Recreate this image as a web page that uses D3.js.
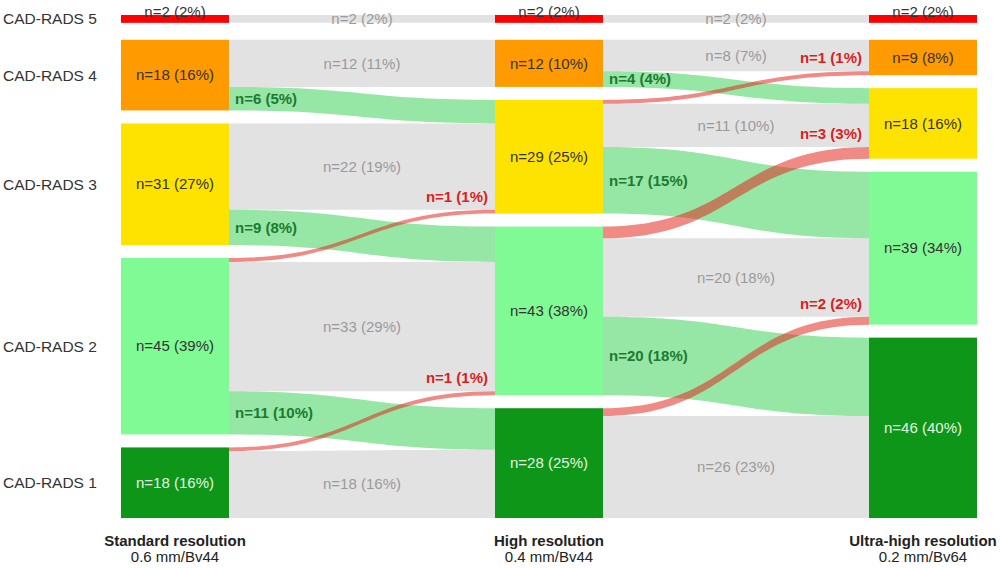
<!DOCTYPE html>
<html>
<head>
<meta charset="utf-8">
<script src="https://cdn.jsdelivr.net/npm/d3@7"></script>
<style>
  body { margin: 0; background: #fff; }
  svg { display: block; font-family: "Liberation Sans", Arial, sans-serif; }
</style>
</head>
<body>
<div id="chart"></div>
<script>
// categories top to bottom
const categories = ['CAD-RADS 5', 'CAD-RADS 4', 'CAD-RADS 3', 'CAD-RADS 2', 'CAD-RADS 1'];
const columnTitles = ['Standard resolution', 'High resolution', 'Ultra-high resolution'];
const columnSubtitles = ['0.6 mm/Bv44', '0.4 mm/Bv44', '0.2 mm/Bv64'];

// patients per category in each column, and the printed percent
const nodeCounts = [
  [2, 18, 31, 45, 18],
  [2, 12, 29, 43, 28],
  [2, 9, 18, 39, 46]
];
const nodePercents = [
  [2, 16, 27, 39, 16],
  [2, 10, 25, 38, 25],
  [2, 8, 16, 34, 40]
];

// flows: [from category, to category, n, percent]
const flowsStandardToHigh = [
  [0, 0, 2, 2], [1, 1, 12, 11], [1, 2, 6, 5], [2, 2, 22, 19], [2, 3, 9, 8],
  [3, 2, 1, 1], [3, 3, 33, 29], [3, 4, 11, 10], [4, 3, 1, 1], [4, 4, 18, 16]
];
const flowsHighToUltra = [
  [0, 0, 2, 2], [1, 1, 8, 7], [1, 2, 4, 4], [2, 1, 1, 1], [2, 2, 11, 10],
  [2, 3, 17, 15], [3, 2, 3, 3], [3, 3, 20, 18], [3, 4, 20, 18], [4, 3, 2, 2], [4, 4, 26, 23]
];

const nodeColors = ['#ff0000', '#ff9a00', '#ffe300', '#80fa94', '#0e9618'];

const width = 1000, height = 568;
const nodeW = 108;
const yTop = 15, yBottom = 518, firstGap = 17, gap = 13;

const svg = d3.select('#chart').append('svg')
  .attr('width', width)
  .attr('height', height);

const total = d3.sum(nodeCounts[0]);
const colX = d3.scaleLinear().domain([0, 2]).range([121, 869]);
const h = d3.scaleLinear().domain([0, total]).range([0, yBottom - yTop - firstGap - 3 * gap]);

// build nodes
const nodes = nodeCounts.map((counts, c) => {
  let acc = 0;
  return counts.map((n, i) => {
    const y0 = yTop + h(acc) + (i > 0 ? firstGap + (i - 1) * gap : 0);
    acc += n;
    return { col: c, cat: i, n: n, pct: nodePercents[c][i], x0: colX(c), x1: colX(c) + nodeW, y0: y0, y1: y0 + h(n) };
  });
});

// build links, stacked inside source and target nodes
const links = [];
[flowsStandardToHigh, flowsHighToUltra].forEach((flows, step) => {
  const ls = flows.map(f => ({ s: nodes[step][f[0]], t: nodes[step + 1][f[1]], from: f[0], to: f[1], n: f[2], pct: f[3] }));
  // source side: sorted by target position
  d3.groups(ls, l => l.from).forEach(([key, grp]) => {
    grp.sort((a, b) => a.to - b.to);
    const node = grp[0].s;
    const f = (node.y1 - node.y0) / h(d3.sum(grp, l => l.n));
    let y = node.y0;
    grp.forEach(l => { l.sy0 = y; y += h(l.n) * f; l.sy1 = y; });
  });
  // target side: sorted by source position
  d3.groups(ls, l => l.to).forEach(([key, grp]) => {
    grp.sort((a, b) => a.from - b.from);
    const node = grp[0].t;
    const f = (node.y1 - node.y0) / h(d3.sum(grp, l => l.n));
    let y = node.y0;
    grp.forEach(l => { l.ty0 = y; y += h(l.n) * f; l.ty1 = y; });
  });
  ls.forEach(l => {
    l.x0 = l.s.x1;
    l.x1 = l.t.x0;
    l.kind = l.from === l.to ? 'same' : (l.to > l.from ? 'down' : 'up');
    links.push(l);
  });
});

function bandPath(l) {
  const xm = (l.x0 + l.x1) / 2;
  const p = d3.path();
  p.moveTo(l.x0, l.sy0);
  p.bezierCurveTo(xm, l.sy0, xm, l.ty0, l.x1, l.ty0);
  p.lineTo(l.x1, l.ty1);
  p.bezierCurveTo(xm, l.ty1, xm, l.sy1, l.x0, l.sy1);
  p.closePath();
  return p.toString();
}

const linkFill = { same: '#e2e2e2', down: 'rgba(45,205,77,0.5)', up: 'rgba(228,42,31,0.55)' };
const order = { same: 0, down: 1, up: 2 };
const sortedLinks = links.slice().sort((a, b) => order[a.kind] - order[b.kind]);

svg.append('g').selectAll('path')
  .data(sortedLinks)
  .enter().append('path')
  .attr('d', bandPath)
  .attr('fill', d => linkFill[d.kind]);

// nodes
const allNodes = nodes.flat();
svg.append('g').selectAll('rect')
  .data(allNodes)
  .enter().append('rect')
  .attr('x', d => d.x0)
  .attr('y', d => d.y0)
  .attr('width', d => d.x1 - d.x0)
  .attr('height', d => d.y1 - d.y0)
  .attr('fill', d => nodeColors[d.cat]);

// node labels
svg.append('g').selectAll('text')
  .data(allNodes)
  .enter().append('text')
  .attr('x', d => (d.x0 + d.x1) / 2)
  .attr('y', d => d.cat === 0 ? d.y0 + 2 : (d.y0 + d.y1) / 2)
  .attr('dy', d => d.cat === 0 ? 0 : '0.35em')
  .attr('text-anchor', 'middle')
  .attr('font-size', 15)
  .attr('fill', d => d.cat === 4 ? '#e4f4e4' : '#333')
  .text(d => `n=${d.n} (${d.pct}%)`);

// link labels
const lab = svg.append('g').attr('font-size', 15);
lab.selectAll('text.same')
  .data(links.filter(l => l.kind === 'same'))
  .enter().append('text')
  .attr('x', d => (d.x0 + d.x1) / 2)
  .attr('y', d => (d.sy0 + d.sy1 + d.ty0 + d.ty1) / 4)
  .attr('dy', '0.35em')
  .attr('text-anchor', 'middle')
  .attr('fill', '#9a9a9a')
  .text(d => `n=${d.n} (${d.pct}%)`);

lab.selectAll('text.down')
  .data(links.filter(l => l.kind === 'down'))
  .enter().append('text')
  .attr('x', d => d.x0 + 6)
  .attr('y', d => (d.sy0 + d.sy1) / 2)
  .attr('dy', '0.35em')
  .attr('font-weight', 'bold')
  .attr('fill', '#1d7a2e')
  .text(d => `n=${d.n} (${d.pct}%)`);

lab.selectAll('text.up')
  .data(links.filter(l => l.kind === 'up'))
  .enter().append('text')
  .attr('x', d => d.x1 - 7)
  .attr('y', d => d.ty0 - 8)
  .attr('text-anchor', 'end')
  .attr('font-weight', 'bold')
  .attr('fill', '#dc1e1e')
  .text(d => `n=${d.n} (${d.pct}%)`);

// category labels on the left
svg.append('g').selectAll('text')
  .data(nodes[0])
  .enter().append('text')
  .attr('x', 3)
  .attr('y', d => (d.y0 + d.y1) / 2)
  .attr('dy', '0.35em')
  .attr('font-size', 15.5)
  .attr('fill', '#333')
  .text(d => categories[d.cat]);

// column titles
const titles = svg.append('g').selectAll('g')
  .data(columnTitles)
  .enter().append('g')
  .attr('transform', (d, i) => `translate(${colX(i) + nodeW / 2},0)`);
titles.append('text')
  .attr('y', 546)
  .attr('text-anchor', 'middle')
  .attr('font-size', 15)
  .attr('font-weight', 'bold')
  .attr('fill', '#222')
  .text(d => d);
titles.append('text')
  .attr('y', 562)
  .attr('text-anchor', 'middle')
  .attr('font-size', 15)
  .attr('fill', '#222')
  .text((d, i) => columnSubtitles[i]);
</script>
</body>
</html>
